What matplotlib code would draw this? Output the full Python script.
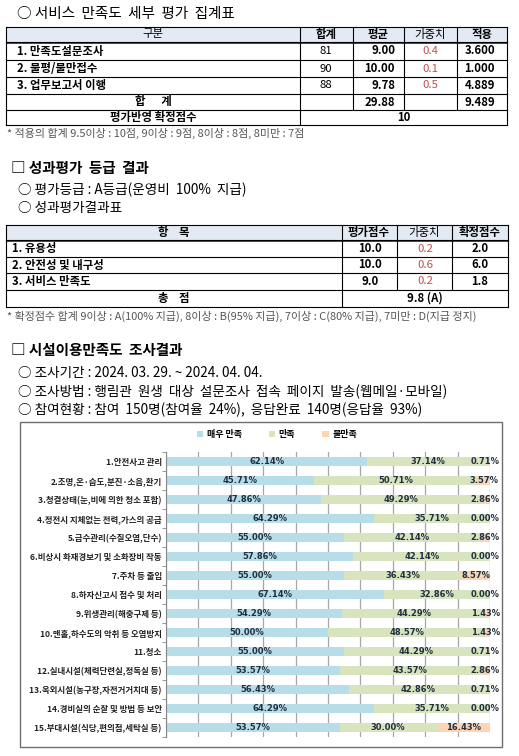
import matplotlib
matplotlib.use("Agg")
import matplotlib.pyplot as plt
from matplotlib.patches import Rectangle
import numpy as np

plt.rcParams['font.family'] = ['Noto Sans CJK KR', 'DejaVu Sans']

# ---- data ----
t1_items = ["1. 만족도설문조사", "2. 불평/불만접수", "3. 업무보고서 이행"]
t1_total = ["81", "90", "88"]
t1_avg = ["9.00", "10.00", "9.78"]
t1_weight = ["0.4", "0.1", "0.5"]
t1_apply = ["3.600", "1.000", "4.889"]
t1_sum_avg = "29.88"
t1_sum_apply = "9.489"
t1_final = "10"

t2_items = ["1. 유용성", "2. 안전성 및 내구성", "3. 서비스 만족도"]
t2_score = ["10.0", "10.0", "9.0"]
t2_weight = ["0.2", "0.6", "0.2"]
t2_final = ["2.0", "6.0", "1.8"]
t2_total = "9.8 (A)"

categories = ["1.안전사고 관리", "2.조명,온·습도,분진·소음,환기", "3.청결상태(눈,비에 의한 청소 포함)",
              "4.정전시 지체없는 전력,가스의 공급", "5.급수관리(수질오염,단수)",
              "6.비상시 화재경보기 및 소화장비 작동", "7.주차 등 출입", "8.하자신고시 접수 및 처리",
              "9.위생관리(해충구제 등)", "10.맨홀,하수도의 악취 등 오염방지", "11.청소",
              "12.실내시설(체력단련실,정독실 등)", "13.옥외시설(농구장,자전거거치대 등)",
              "14.경비실의 순찰 및 방범 등 보안", "15.부대시설(식당,편의점,세탁실 등)"]
very = [62.14, 45.71, 47.86, 64.29, 55.00, 57.86, 55.00, 67.14, 54.29, 50.00, 55.00, 53.57, 56.43, 64.29, 53.57]
sat = [37.14, 50.71, 49.29, 35.71, 42.14, 42.14, 36.43, 32.86, 44.29, 48.57, 44.29, 43.57, 42.86, 35.71, 30.00]
dis = [0.71, 3.57, 2.86, 0.00, 2.86, 0.00, 8.57, 0.00, 1.43, 1.43, 0.71, 2.86, 0.71, 0.00, 16.43]
series_names = ["매우 만족", "만족", "불만족"]

W, H = 519, 756
fig = plt.figure(figsize=(W / 100, H / 100), dpi=100)
doc = fig.add_axes([0, 0, 1, 1])
doc.set_xlim(0, W)
doc.set_ylim(H, 0)
doc.axis("off")

RED = "#c0504d"
HEAD = "#e4eaf4"
TS = 8.2  # table font size


def grid_table(cols, rows, vlines_per_row):
    doc.add_patch(Rectangle((cols[0], rows[0]), cols[-1] - cols[0], rows[1] - rows[0],
                            facecolor=HEAD, edgecolor="none"))
    for y in rows:
        doc.plot([cols[0], cols[-1]], [y, y], color="black", lw=0.8)
    doc.plot([cols[0], cols[-1]], [rows[1] + 1, rows[1] + 1], color="black", lw=0.5)
    for i in range(len(rows) - 1):
        for x in vlines_per_row[i]:
            doc.plot([x, x], [rows[i], rows[i + 1]], color="black", lw=0.8)


def txt(x, y, s, ha="left", size=TS, weight="normal", color="black"):
    doc.text(x, y, s, ha=ha, va="center", fontsize=size, fontweight=weight, color=color)


# ---- section 1 ----
txt(17, 14, "○ 서비스  만족도  세부  평가  집계표", size=10.5)
c1 = [6, 300, 353, 404, 457, 507]
r1 = [27, 42, 60, 77, 94, 110, 125]
vl = [c1] * 5 + [[6, 300, 507]]
grid_table(c1, r1, vl)
mid = lambda r, i: (r[i] + r[i + 1]) / 2
txt(153, mid(r1, 0), "구분", ha="center")
txt(326, mid(r1, 0), "합계", ha="center", weight="bold")
txt(378, mid(r1, 0), "평균", ha="center", weight="bold")
txt(430, mid(r1, 0), "가중치", ha="center")
txt(482, mid(r1, 0), "적용", ha="center", weight="bold")
for i in range(3):
    y = mid(r1, i + 1)
    txt(17, y, t1_items[i], weight="bold")
    txt(326, y, t1_total[i], ha="center")
    txt(395, y, t1_avg[i], ha="right", weight="bold")
    txt(430, y, t1_weight[i], ha="center", color=RED)
    txt(495, y, t1_apply[i], ha="right", weight="bold")
txt(153, mid(r1, 4), "합      계", ha="center", weight="bold")
txt(395, mid(r1, 4), t1_sum_avg, ha="right", weight="bold")
txt(495, mid(r1, 4), t1_sum_apply, ha="right", weight="bold")
txt(153, mid(r1, 5), "평가반영 확정점수", ha="center", weight="bold")
txt(404, mid(r1, 5), t1_final, ha="center", weight="bold")
txt(7, 133, "* 적용의 합계 9.5이상 : 10점, 9이상 : 9점, 8이상 : 8점, 8미만 : 7점", size=7.9, color="#555555")

# ---- section 2 ----
txt(11, 168, "□ 성과평가  등급  결과", size=10.5, weight="bold")
txt(18, 190, "○ 평가등급 : A등급(운영비  100%  지급)", size=9.8)
txt(18, 208, "○ 성과평가결과표", size=9.8)
c2 = [6, 342, 397, 452, 508]
r2 = [225, 240, 257, 273, 290, 307]
vl2 = [c2] * 4 + [[6, 342, 508]]
grid_table(c2, r2, vl2)
txt(174, mid(r2, 0), "항    목", ha="center", weight="bold")
txt(369, mid(r2, 0), "평가점수", ha="center", weight="bold")
txt(424, mid(r2, 0), "가중치", ha="center")
txt(480, mid(r2, 0), "확정점수", ha="center", weight="bold")
for i in range(3):
    y = mid(r2, i + 1)
    txt(12, y, t2_items[i], weight="bold")
    txt(370, y, t2_score[i], ha="center", weight="bold")
    txt(425, y, t2_weight[i], ha="center", color=RED)
    txt(480, y, t2_final[i], ha="center", weight="bold")
txt(174, mid(r2, 4), "총    점", ha="center", weight="bold")
txt(425, mid(r2, 4), t2_total, ha="center", weight="bold")
txt(7, 316, "* 확정점수 합계 9이상 : A(100% 지급), 8이상 : B(95% 지급), 7이상 : C(80% 지급), 7미만 : D(지급 정지)",
    size=7.9, color="#555555")

# ---- section 3 ----
txt(11, 350, "□ 시설이용만족도  조사결과", size=10.5, weight="bold")
txt(18, 373, "○ 조사기간 : 2024. 03. 29. ~ 2024. 04. 04.", size=9.8)
txt(18, 392, "○ 조사방법 : 행림관  원생  대상  설문조사  접속  페이지  발송(웹메일·모바일)", size=9.8)
txt(18, 410, "○ 참여현황 : 참여  150명(참여율  24%),  응답완료  140명(응답율  93%)", size=9.8)

doc.add_patch(Rectangle((20, 422), 482, 325, facecolor="white", edgecolor="#6f6f6f", lw=1.0))

# ---- chart ----
ax = fig.add_axes([166 / W, (H - 737) / H, (490 - 166) / W, (737 - 452) / H])
ax.patch.set_alpha(0)
y = np.arange(len(categories))
very_a, sat_a, dis_a = np.array(very), np.array(sat), np.array(dis)
colors = ["#b7dde8", "#d7e4bd", "#fcd5b5"]
lefts = [np.zeros(len(y)), very_a, very_a + sat_a]
vals = [very_a, sat_a, dis_a]
handles = []
for v, l, c, n in zip(vals, lefts, colors, series_names):
    b = ax.barh(y, v, left=l, height=0.47, color=c, label=n, zorder=2)
    handles.append(b)
    for yi, vi, li in zip(y, v, l):
        cx = min(li + vi / 2, 98.6)
        ax.text(cx, yi, f"{vi:.2f}%", ha="center", va="center", fontsize=6,
                fontweight="bold", color="#1f3040", family="DejaVu Sans", zorder=3)

ax.set_xlim(0, 100)
ax.set_ylim(len(y) - 0.5, -0.5)
ax.set_xticks(np.arange(0, 101, 10))
ax.tick_params(axis="x", length=0, labelbottom=False)
ax.grid(axis="x", color="#a6a6a6", lw=0.9, zorder=0)
ax.set_axisbelow(True)
for s in ["top", "right", "bottom"]:
    ax.spines[s].set_visible(False)
ax.spines["left"].set_color("#868686")
ax.set_yticks(y)
ax.set_yticklabels(categories, fontsize=6.1, fontweight="bold", color="#222222")
ax.tick_params(axis="y", which="major", length=0, pad=3)
ax.set_yticks(np.arange(-0.5, len(y)), minor=True)
ax.tick_params(axis="y", which="minor", length=3, color="#868686", direction="out")

fig.legend(handles=handles, loc="center", bbox_to_anchor=(277 / W, 1 - 435 / H), ncol=3,
           frameon=False, handlelength=0.7, handleheight=0.7,
           handletextpad=0.4, columnspacing=3.0, prop={"weight": "bold", "size": 6.5})

fig.savefig("out.png", dpi=100)
